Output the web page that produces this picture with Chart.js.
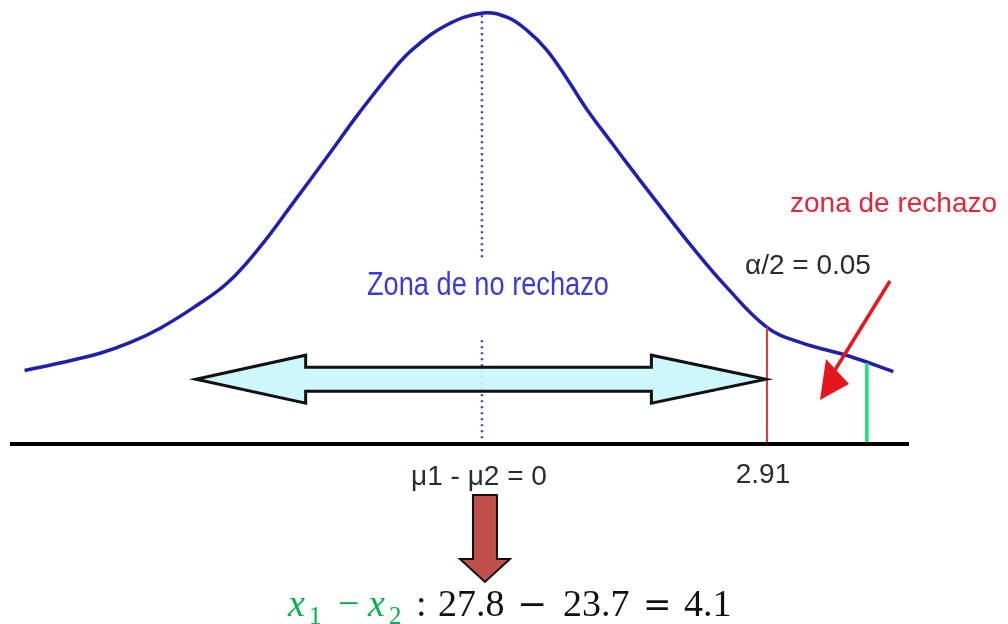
<!DOCTYPE html>
<html>
<head>
<meta charset="utf-8">
<script src="https://cdn.jsdelivr.net/npm/chart.js@4"></script>
<style>
  html, body { margin: 0; padding: 0; background: #fff; }
  canvas { display: block; }
</style>
</head>
<body>
<canvas id="curveChart" width="1008" height="624"></canvas>
<script>
// curve (x in units of the statistic, y density-like)
const curveX = [-4.67, -4.31, -3.90, -3.59, -3.29, -2.95, -2.60, -2.27, -1.93, -1.58, -1.25, -0.91, -0.70, -0.36, 0.01, 0.26, 0.46, 0.66, 0.87, 1.07, 1.34, 1.48, 1.82, 2.15, 2.50, 2.91, 3.25, 3.76, 4.20];
const curveY = [0.068, 0.075, 0.084, 0.094, 0.107, 0.126, 0.149, 0.182, 0.223, 0.266, 0.307, 0.346, 0.366, 0.388, 0.399, 0.395, 0.383, 0.365, 0.338, 0.310, 0.277, 0.260, 0.220, 0.182, 0.145, 0.108, 0.094, 0.081, 0.067];

const criticalValue = 2.91;
const criticalHeight = 0.108;
const observedValue = 3.93;
const observedHeight = 0.075;
const axisRange = [-4.82, 4.36];
const noRejectRange = [-2.92, 2.91];

const tickValues = [0, 2.91];
const tickLabels = ['μ1 - μ2 = 0', '2.91'];

const toPoints = (xs, ys) => xs.map((x, i) => ({ x, y: ys[i] }));

const overlay = {
  id: 'overlay',
  afterDatasetsDraw(chart) {
    const { ctx, scales: { x, y } } = chart;
    const cy = y.getPixelForValue(0.060);

    // double arrow over the non-rejection zone
    const lt = x.getPixelForValue(noRejectRange[0]);
    const rt = x.getPixelForValue(noRejectRange[1]) - 1;
    const lb = x.getPixelForValue(-1.80);
    const rb = x.getPixelForValue(1.73);
    ctx.save();
    ctx.beginPath();
    ctx.moveTo(lt, cy);
    ctx.lineTo(lb, cy - 24);
    ctx.lineTo(lb, cy - 12);
    ctx.lineTo(rb, cy - 12);
    ctx.lineTo(rb, cy - 24);
    ctx.lineTo(rt, cy);
    ctx.lineTo(rb, cy + 24);
    ctx.lineTo(rb, cy + 12);
    ctx.lineTo(lb, cy + 12);
    ctx.lineTo(lb, cy + 24);
    ctx.closePath();
    ctx.fillStyle = 'rgba(200, 246, 250, 0.9)';
    ctx.fill();
    ctx.lineWidth = 3;
    ctx.strokeStyle = '#111';
    ctx.stroke();
    ctx.restore();

    // tick labels under the axis
    ctx.save();
    ctx.fillStyle = '#2a2a33';
    ctx.font = '28px "Liberation Sans", Arial, sans-serif';
    ctx.textAlign = 'center';
    ctx.fillText(tickLabels[0], x.getPixelForValue(tickValues[0]) - 3, 485);
    ctx.fillText(tickLabels[1], x.getPixelForValue(tickValues[1]) - 4, 483);
    ctx.restore();

    // zone labels
    ctx.save();
    ctx.textAlign = 'center';
    ctx.fillStyle = '#3c3cd4';
    ctx.font = '34px "Liberation Sans", Arial, sans-serif';
    ctx.translate(x.getPixelForValue(0) + 6, 295);
    ctx.scale(0.8, 1);
    ctx.fillText('Zona de no rechazo', 0, 0);
    ctx.restore();

    ctx.save();
    ctx.textAlign = 'left';
    ctx.font = '28px "Liberation Sans", Arial, sans-serif';
    ctx.fillStyle = '#e0283a';
    ctx.fillText('zona de rechazo', 790, 212);
    ctx.fillStyle = '#2b2b2b';
    ctx.fillText('α/2 = 0.05', 745, 274);
    ctx.restore();

    // red pointer arrow
    ctx.save();
    ctx.strokeStyle = '#e5161c';
    ctx.fillStyle = '#e5161c';
    ctx.lineWidth = 3.5;
    ctx.beginPath();
    ctx.moveTo(890, 281);
    ctx.lineTo(835, 370);
    ctx.stroke();
    ctx.beginPath();
    ctx.moveTo(820, 400);
    ctx.lineTo(826, 359);
    ctx.lineTo(849, 384);
    ctx.closePath();
    ctx.fill();
    ctx.restore();

    // block arrow down to the observed difference
    const bx = x.getPixelForValue(0) + 3;
    ctx.save();
    ctx.beginPath();
    ctx.moveTo(bx - 12, 495);
    ctx.lineTo(bx + 12, 495);
    ctx.lineTo(bx + 12, 559);
    ctx.lineTo(bx + 25, 559);
    ctx.lineTo(bx, 582);
    ctx.lineTo(bx - 25, 559);
    ctx.lineTo(bx - 12, 559);
    ctx.closePath();
    ctx.fillStyle = '#c0504d';
    ctx.fill();
    ctx.lineWidth = 2;
    ctx.strokeStyle = '#111';
    ctx.stroke();
    ctx.restore();

    // formula line
    const base = 616;
    const green = '#00b050';
    const black = '#111';
    const big = '38px "Liberation Serif", "Times New Roman", serif';
    const bigIt = 'italic 38px "Liberation Serif", "Times New Roman", serif';
    const sub = '25px "Liberation Serif", "Times New Roman", serif';
    const op = '36px "DejaVu Serif", serif';
    const eq = '34px "DejaVu Serif", serif';
    const parts = [
      ['x', 288, base, bigIt, green],
      ['1', 309, base + 8, sub, green],
      ['−', 338, base, big, green],
      ['x', 368, base, bigIt, green],
      ['2', 389, base + 8, sub, green],
      [':', 416, base, big, black],
      ['27.8', 438, base, big, black],
      ['−', 517, base, op, black],
      ['23.7', 563, base, big, black],
      ['=', 643, base, eq, black],
      ['4.1', 684, base, big, black]
    ];
    ctx.save();
    ctx.textAlign = 'left';
    parts.forEach(([t, px, py, f, c]) => {
      ctx.font = f;
      ctx.fillStyle = c;
      ctx.fillText(t, px, py);
    });
    ctx.restore();
  }
};

new Chart(document.getElementById('curveChart'), {
  type: 'scatter',
  data: {
    datasets: [
      {
        label: 'baseline',
        data: [{ x: axisRange[0], y: 0 }, { x: axisRange[1], y: 0 }],
        showLine: true,
        borderColor: '#000',
        borderWidth: 4,
        pointRadius: 0
      },
      {
        label: 'media alta',
        data: [{ x: 0, y: 0.397 }, { x: 0, y: 0.170 }],
        showLine: true,
        borderColor: '#3c3cc0',
        borderWidth: 2.5,
        borderDash: [2, 4],
        pointRadius: 0
      },
      {
        label: 'media baja',
        data: [{ x: 0, y: 0.096 }, { x: 0, y: 0 }],
        showLine: true,
        borderColor: '#3c3cc0',
        borderWidth: 2.5,
        borderDash: [2, 4],
        pointRadius: 0
      },
      {
        label: 'valor crítico',
        data: [{ x: criticalValue, y: 0 }, { x: criticalValue, y: criticalHeight }],
        showLine: true,
        borderColor: '#e8323c',
        borderWidth: 2,
        pointRadius: 0
      },
      {
        label: 'valor observado',
        data: [{ x: observedValue, y: 0 }, { x: observedValue, y: observedHeight }],
        showLine: true,
        borderColor: '#1ee07a',
        borderWidth: 3.5,
        pointRadius: 0
      },
      {
        label: 'curva',
        data: toPoints(curveX, curveY),
        showLine: true,
        borderColor: '#2020ad',
        borderWidth: 3.5,
        pointRadius: 0,
        tension: 0.4
      }
    ]
  },
  options: {
    responsive: false,
    animation: false,
    layout: { padding: 0 },
    plugins: { legend: { display: false }, tooltip: { enabled: false } },
    scales: {
      x: { type: 'linear', display: false, min: -4.921, max: 5.371 },
      y: { type: 'linear', display: false, min: -0.1667, max: 0.4111 }
    }
  },
  plugins: [overlay]
});
</script>
</body>
</html>
